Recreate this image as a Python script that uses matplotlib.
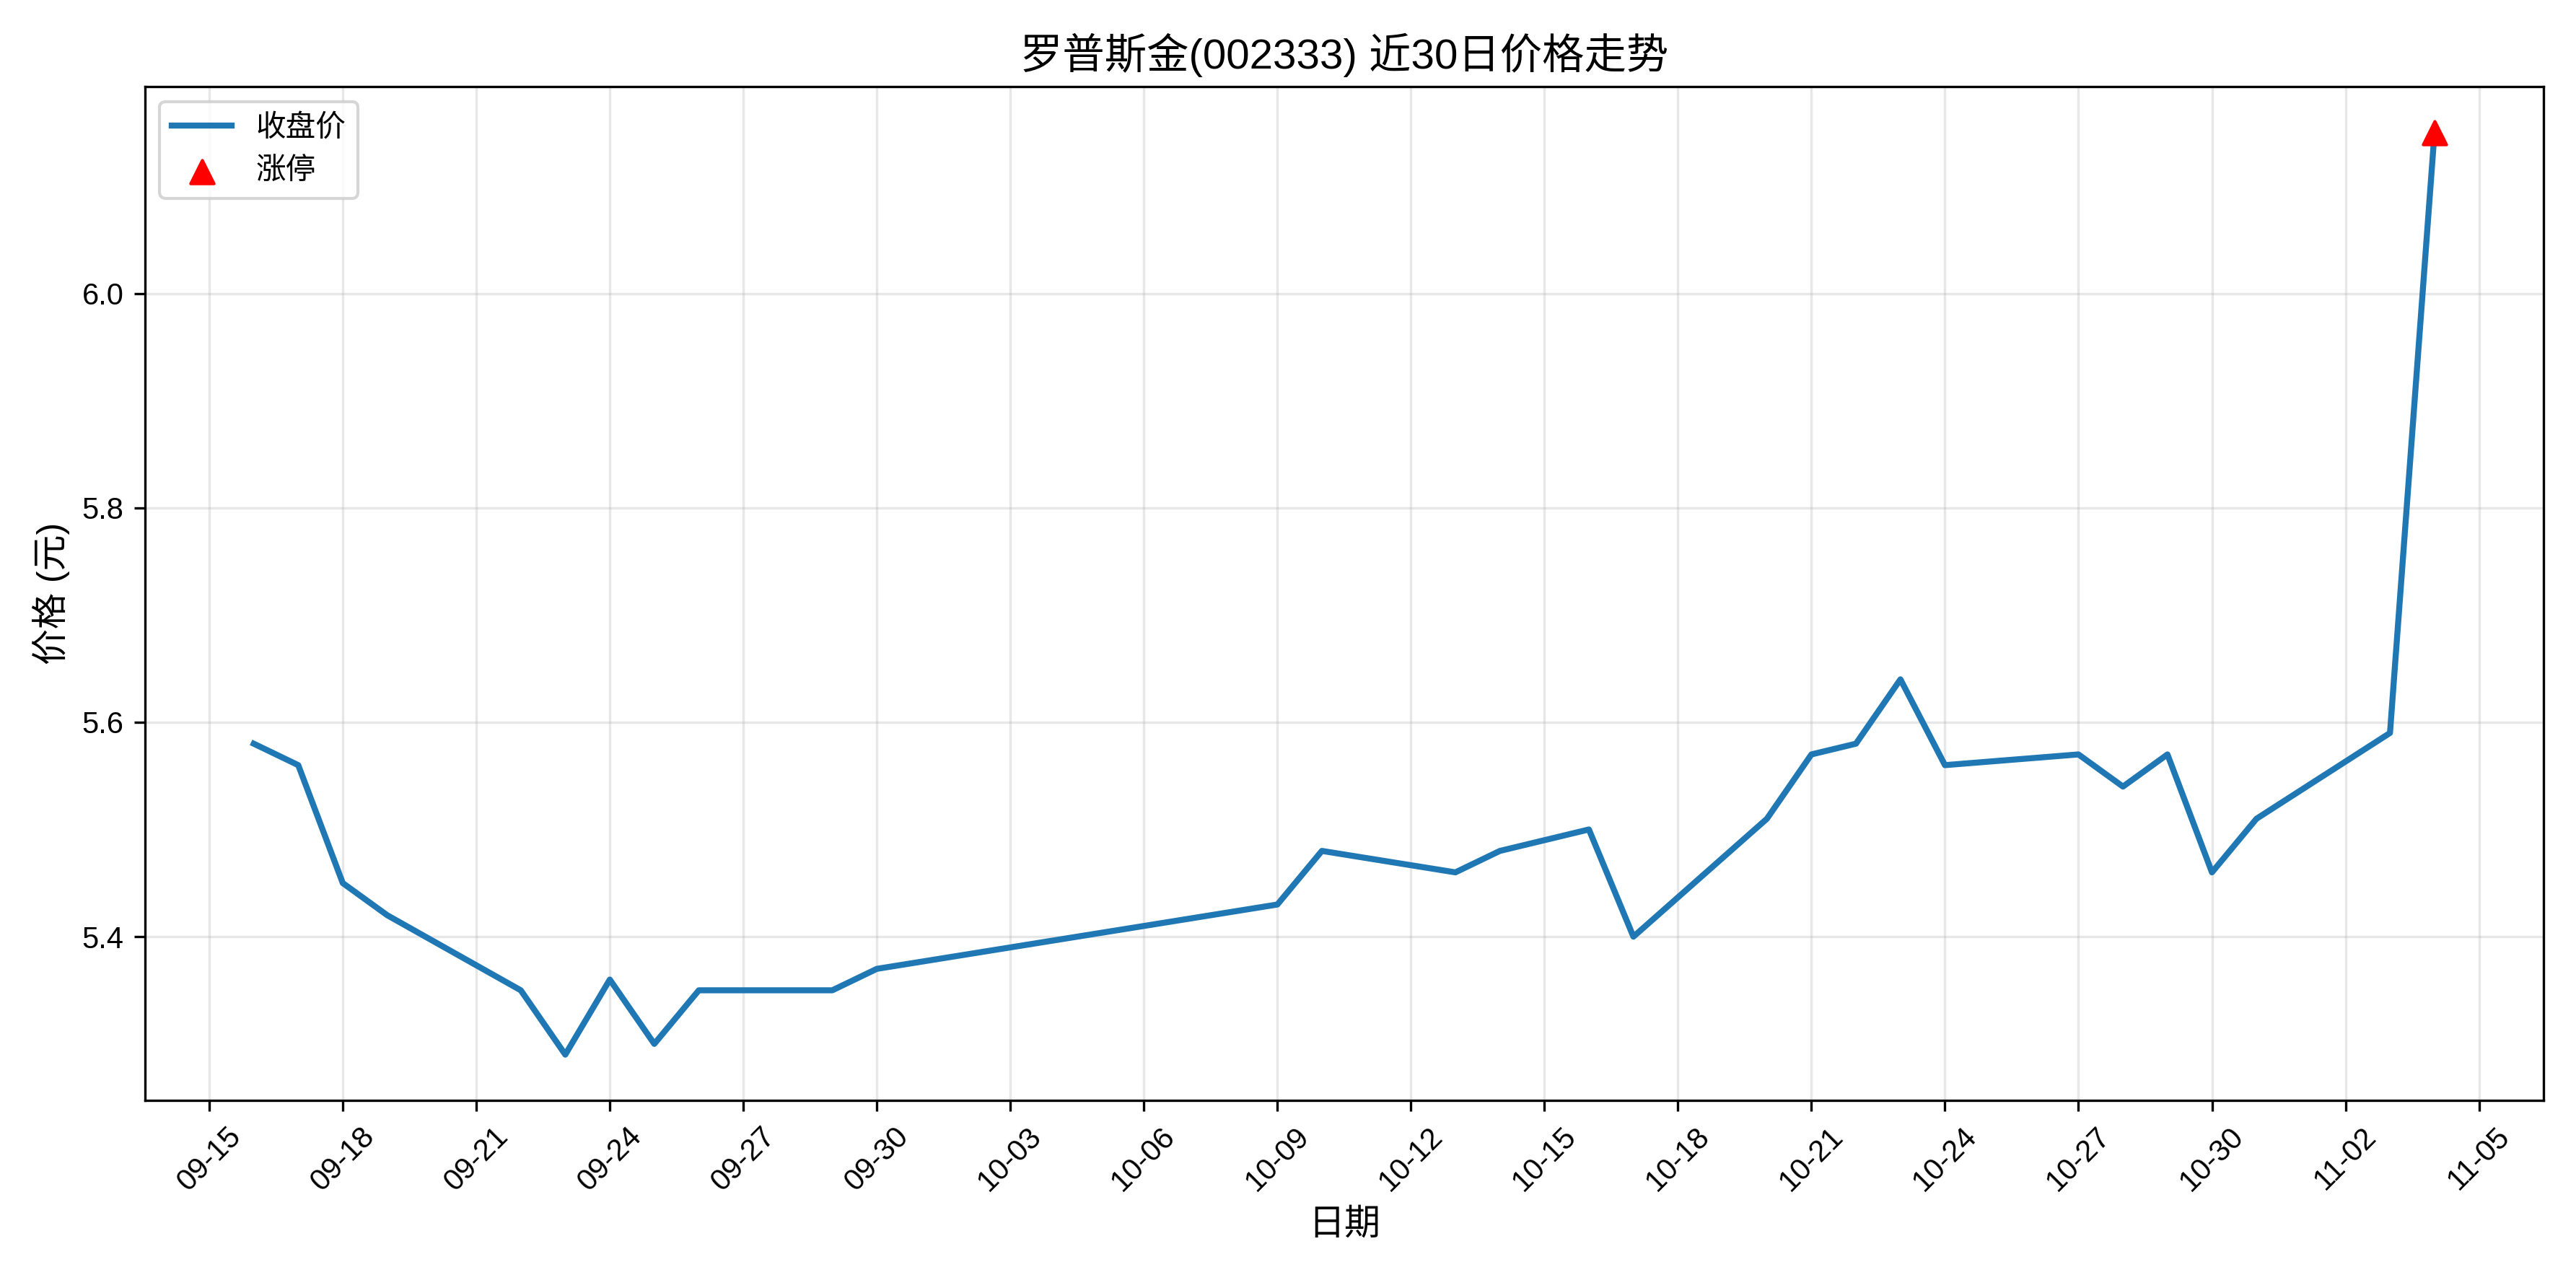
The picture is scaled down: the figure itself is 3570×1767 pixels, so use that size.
import matplotlib
matplotlib.use("Agg")
import matplotlib.pyplot as plt
import matplotlib.dates as mdates
import pandas as pd

plt.rcParams['font.family'] = ['Liberation Sans', 'Noto Sans CJK SC', 'DejaVu Sans']
plt.rcParams['axes.unicode_minus'] = False

dates = ["2025-09-16", "2025-09-17", "2025-09-18", "2025-09-19", "2025-09-22",
         "2025-09-23", "2025-09-24", "2025-09-25", "2025-09-26", "2025-09-29",
         "2025-09-30", "2025-10-09", "2025-10-10", "2025-10-13", "2025-10-14",
         "2025-10-15", "2025-10-16", "2025-10-17", "2025-10-20", "2025-10-21",
         "2025-10-22", "2025-10-23", "2025-10-24", "2025-10-27", "2025-10-28",
         "2025-10-29", "2025-10-30", "2025-10-31", "2025-11-03", "2025-11-04"]
close = [5.58, 5.56, 5.45, 5.42, 5.35, 5.29, 5.36, 5.30, 5.35, 5.35,
         5.37, 5.43, 5.48, 5.46, 5.48, 5.49, 5.50, 5.40, 5.51, 5.57,
         5.58, 5.64, 5.56, 5.57, 5.54, 5.57, 5.46, 5.51, 5.59, 6.15]
limit_up_dates = ["2025-11-04"]
limit_up_prices = [6.15]

x = pd.to_datetime(dates)

fig, ax = plt.subplots(figsize=(11.9, 5.89))
ax.plot(x, close, color='#1f77b4', linewidth=2, label='收盘价')
ax.scatter(pd.to_datetime(limit_up_dates), limit_up_prices, color='red', marker='^',
           s=60, zorder=5, label='涨停')

ax.set_title('罗普斯金(002333) 近30日价格走势', fontsize=14)
ax.set_xlabel('日期', fontsize=12)
ax.set_ylabel('价格 (元)', fontsize=12)
ax.set_xticks(pd.date_range('2025-09-15', '2025-11-05', freq='3D'))
ax.xaxis.set_major_formatter(mdates.DateFormatter('%m-%d'))
plt.setp(ax.get_xticklabels(), rotation=45)
ax.grid(True, alpha=0.3)
ax.legend(loc='upper left')
plt.tight_layout()
plt.savefig('out.png', dpi=300)
plt.close()
